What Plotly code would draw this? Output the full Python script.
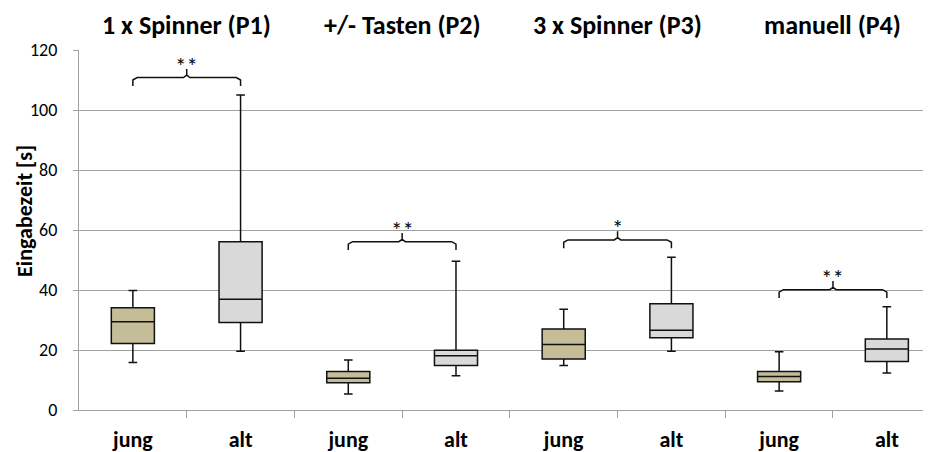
import plotly.graph_objects as go

groups = ["1 x Spinner (P1)", "+/- Tasten (P2)", "3 x Spinner (P3)", "manuell (P4)"]
tick_labels = ["jung", "alt", "jung", "alt", "jung", "alt", "jung", "alt"]

# jung (young) boxes
jung_low = [15.8, 5.3, 14.8, 6.3]
jung_q1 = [22.2, 9.1, 17.0, 9.4]
jung_med = [29.4, 10.6, 21.8, 11.2]
jung_q3 = [34.1, 12.8, 27.0, 12.8]
jung_high = [39.8, 16.7, 33.6, 19.4]

# alt (old) boxes
alt_low = [19.6, 11.4, 19.6, 12.3]
alt_q1 = [29.2, 14.8, 24.1, 16.2]
alt_med = [36.9, 18.1, 26.6, 20.3]
alt_q3 = [56.1, 19.9, 35.4, 23.7]
alt_high = [105.0, 49.6, 50.9, 34.4]

# significance brackets
bracket_y = [110.8, 56.1, 56.7, 40.1]
stars = ["**", "**", "*", "**"]

FONT = "Carlito, Lato, sans-serif"
jung_x = [2 * i for i in range(4)]
alt_x = [2 * i + 1 for i in range(4)]

fig = go.Figure()
fig.add_trace(go.Box(
    x=jung_x, q1=jung_q1, median=jung_med, q3=jung_q3,
    lowerfence=jung_low, upperfence=jung_high,
    width=0.4, whiskerwidth=0.2, fillcolor="#C4BD97",
    line=dict(color="#111111", width=1.5), boxpoints=False, showlegend=False))
fig.add_trace(go.Box(
    x=alt_x, q1=alt_q1, median=alt_med, q3=alt_q3,
    lowerfence=alt_low, upperfence=alt_high,
    width=0.4, whiskerwidth=0.2, fillcolor="#D9D9D9",
    line=dict(color="#111111", width=1.5), boxpoints=False, showlegend=False))

for i in range(4):
    xj, xa = jung_x[i], alt_x[i]
    xm = (xj + xa) / 2
    y = bracket_y[i]
    xs = [xj, xj, xj + 0.04, xm - 0.03, xm, xm, xm, xm + 0.03, xa - 0.04, xa, xa]
    ys = [y - 2.8, y - 0.8, y, y, y + 0.8, y + 2.9, y + 0.8, y, y, y - 0.8, y - 2.8]
    fig.add_trace(go.Scatter(x=xs, y=ys, mode="lines", line=dict(color="#111111", width=1.5),
                             showlegend=False, hoverinfo="skip"))
    fig.add_annotation(x=xm, y=y + 4.0, text=stars[i], showarrow=False,
                       font=dict(family=FONT, size=23, color="#000"), yanchor="middle")
    fig.add_annotation(x=xm, y=1.07, yref="paper", text="<b>%s</b>" % groups[i],
                       showarrow=False, font=dict(family=FONT, size=26, color="#000"),
                       yanchor="middle")

fig.add_annotation(x=-0.0634, y=0.553, xref="paper", yref="paper",
                   text="<b>Eingabezeit [s]</b>", textangle=-90, showarrow=False,
                   font=dict(family=FONT, size=22, color="#000"),
                   xanchor="center", yanchor="middle")

fig.update_layout(
    width=931, height=452,
    margin=dict(l=71, r=8, t=42, b=50, autoexpand=False),
    plot_bgcolor="white", paper_bgcolor="white",
    xaxis=dict(range=[-0.5, 7.41], tickvals=list(range(8)), automargin=False,
               ticktext=["<b>%s</b>" % t for t in tick_labels],
               ticks="", showgrid=False, zeroline=False,
               showline=True, linecolor="#A0A0A0", linewidth=1.2,
               ticklabelstandoff=9,
               tickfont=dict(family=FONT, size=22, color="#000"),
               minor=dict(tickvals=[0.5 + k for k in range(7)], ticks="outside",
                          ticklen=7, tickcolor="#A0A0A0", tickwidth=1.2, showgrid=False)),
    yaxis=dict(range=[0, 120], dtick=20, showgrid=True, gridcolor="#A0A0A0", gridwidth=1.2,
               automargin=False,
               zeroline=False, showline=True, linecolor="#A0A0A0", linewidth=1.2,
               ticks="outside", ticklen=5, tickcolor="#A0A0A0",
               ticklabelstandoff=12,
               tickfont=dict(family=FONT, size=18, color="#000")),
)

fig.write_html("out.html")
